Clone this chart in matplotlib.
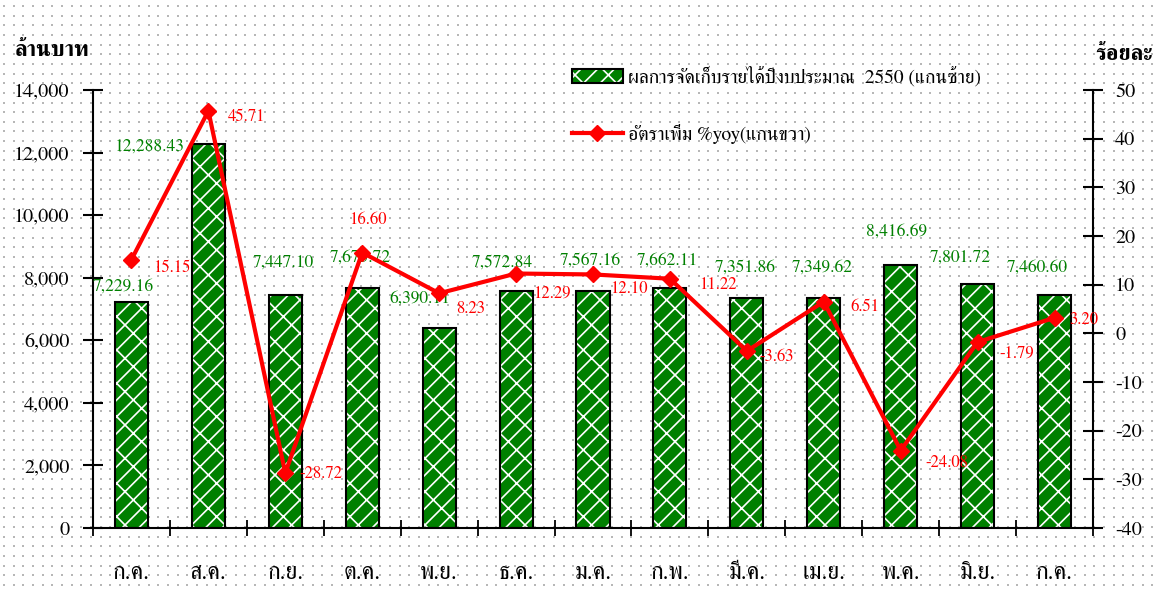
import matplotlib
matplotlib.use("Agg")
import numpy as np
import matplotlib.pyplot as plt
from matplotlib.patches import Patch
from matplotlib.lines import Line2D
from matplotlib.legend_handler import HandlerTuple

plt.rcParams['font.family'] = ['FreeSerif', 'Noto Serif Thai', 'DejaVu Sans']
plt.rcParams['hatch.linewidth'] = 1.2
plt.rcParams['axes.unicode_minus'] = False

# ข้อมูล
months = ["ก.ค.", "ส.ค.", "ก.ย.", "ต.ค.", "พ.ย.", "ธ.ค.", "ม.ค.",
          "ก.พ.", "มี.ค.", "เม.ย.", "พ.ค.", "มิ.ย.", "ก.ค."]
revenue = [7229.16, 12288.43, 7447.10, 7675.72, 6390.11, 7572.84, 7567.16,
           7662.11, 7351.86, 7349.62, 8416.69, 7801.72, 7460.60]
growth = [15.15, 45.71, -28.72, 16.60, 8.23, 12.29, 12.10,
          11.22, -3.63, 6.51, -24.08, -1.79, 3.20]
left_ticks = [0, 2000, 4000, 6000, 8000, 10000, 12000, 14000]
right_ticks = [-40, -30, -20, -10, 0, 10, 20, 30, 40, 50]

# ตำแหน่งป้ายกำกับ (ออฟเซ็ตเป็นพิกเซล)
rev_off = [(-8, 15), (-59, -3), (-2, 32), (-2, 30), (-19, 29), (-14, 28), (-3, 31),
           (-3, 28), (-2, 30), (-2, 30), (-4, 33), (-17, 26), (-17, 27)]
gr_off = [(40, -8), (38, -6), (36, -1), (6, 33), (31, -16), (36, -20), (36, -15),
          (48, -6), (30, -6), (41, -5), (46, -12), (39, -12), (29, -2)]

GREEN = "#008000"
RED = "#FF0000"

W, H = 1161, 592
fig = plt.figure(figsize=(W / 100, H / 100), dpi=100)

# พื้นหลังลายจุด
bg = np.ones((H, W, 3))
for yy in np.arange(5, H, 9.65):
    for xx in np.arange(3, W, 9.65):
        r, c = int(round(yy)), int(round(xx))
        bg[r:r + 2, c:c + 2] = 0.72
fig.figimage(bg, 0, 0, zorder=-5)

ax = fig.add_axes([93 / W, 1 - 528 / H, 1000 / W, 438 / H])
ax.set_facecolor("none")
ax2 = ax.twinx()

x = np.arange(len(months))
bw = 0.43
ax.bar(x, revenue, width=bw, color=GREEN, edgecolor="white", hatch="//\\", linewidth=0, zorder=2)
ax.bar(x, revenue, width=bw, fill=False, edgecolor="black", linewidth=1.5, zorder=3)

ax.set_xlim(-0.5, len(months) - 0.5)
ax.set_ylim(0, 14000)
ax.set_yticks(left_ticks)
ax.set_yticklabels([f"{v:,}" for v in left_ticks])
ax.set_xticks(x)
ax.set_xticklabels(months, fontsize=17)
ax.set_xticks(np.arange(-0.5, len(months)), minor=True)
ax.tick_params(axis="x", which="major", length=0, pad=25)
ax.tick_params(axis="x", which="minor", direction="inout", length=12, width=1.3)
ax.tick_params(axis="y", direction="inout", length=14, width=1.5, labelsize=14.5, pad=10)
for s in ["top", "right"]:
    ax.spines[s].set_visible(False)
for s in ["left", "bottom"]:
    ax.spines[s].set_linewidth(1.5)

for i, v in enumerate(revenue):
    ax.annotate(f"{v:,.2f}", (x[i], v), xytext=rev_off[i], textcoords="offset pixels",
                ha="center", va="center", color=GREEN, fontsize=12.5, zorder=4)

ax2.plot(x, growth, color=RED, linewidth=3, marker="D", markersize=8, zorder=5)
ax2.set_ylim(-40, 50)
ax2.set_yticks(right_ticks)
ax2.tick_params(axis="y", direction="inout", length=14, width=1.5, labelsize=14.5, pad=9)
for s in ["top", "left", "bottom"]:
    ax2.spines[s].set_visible(False)
ax2.spines["right"].set_linewidth(1.5)

for i, v in enumerate(growth):
    ax2.annotate(f"{v:.2f}", (x[i], v), xytext=gr_off[i], textcoords="offset pixels",
                 ha="center", va="center", color=RED, fontsize=12, zorder=4)

fig.text(15 / W, 1 - 50 / H, "ล้านบาท", fontsize=16, fontweight="bold", va="center", ha="left")
fig.text(1095 / W, 1 - 55 / H, "ร้อยละ", fontsize=16, fontweight="bold", va="center", ha="left")

bar_handle = (Patch(facecolor=GREEN, edgecolor="white", hatch="//\\", linewidth=0),
              Patch(fill=False, edgecolor="black", linewidth=1.5))
line_handle = Line2D([], [], color=RED, linewidth=3, marker="D", markersize=8)
fig.legend([bar_handle, line_handle],
           ["ผลการจัดเก็บรายได้ปีงบประมาณ  2550 (แกนซ้าย)", "อัตราเพิ่ม %yoy(แกนขวา)"],
           handler_map={tuple: HandlerTuple(ndivide=1)},
           loc="upper left", bbox_to_anchor=(572 / W, 1 - 66 / H), frameon=False,
           fontsize=14, handlelength=2.6, handleheight=0.75, handletextpad=0.3,
           labelspacing=1.9, borderpad=0, borderaxespad=0)

fig.savefig("out.png", dpi=100)
